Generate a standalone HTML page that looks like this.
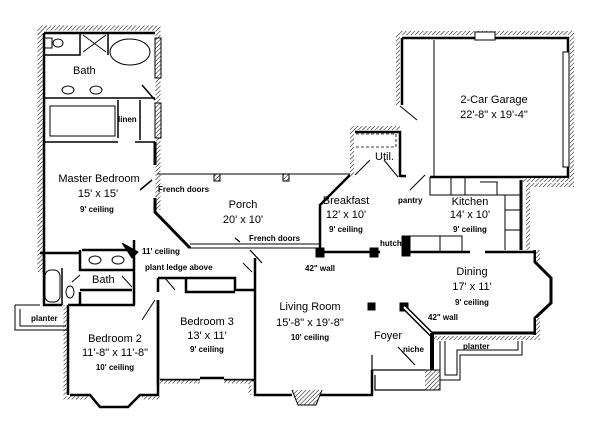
<!DOCTYPE html>
<html><head><meta charset="utf-8"><style>
html,body{margin:0;padding:0;background:#fff;width:600px;height:436px;overflow:hidden}
text{font-family:"Liberation Sans",Arial,sans-serif;fill:#000}
.l{font-size:11px}
.s{font-size:8px;font-weight:bold}
</style></head><body>
<svg width="600" height="436" viewBox="0 0 600 436" xmlns="http://www.w3.org/2000/svg">
<defs><pattern id="h" width="3" height="3" patternUnits="userSpaceOnUse" patternTransform="rotate(45)"><rect width="3" height="3" fill="#fff"/><line x1="0" y1="0" x2="0" y2="3" stroke="#000" stroke-width="1"/></pattern></defs>
<g fill="none" stroke="#000">
<path d="M40 28 H158 V210 M40 28 V272" stroke="url(#h)" stroke-width="5"/>
<path d="M44 33 H155 M44 33 V272" stroke-width="2.5"/>
<path d="M44 55 H80 V50 M80 33 V55 M108 33 V55 M44 98 H155 M44 142 H118 M135 142 H155 M44 95 V142" stroke-width="1.5"/>
<rect x="50" y="106" width="65" height="30" stroke-width="1"/>
<ellipse cx="130" cy="52" rx="20" ry="13" stroke-width="1"/>
<path d="M83 35 L106 52 M106 35 L83 52" stroke-width=".8"/>
<ellipse cx="68" cy="90" rx="6" ry="4"/><ellipse cx="96" cy="90" rx="6" ry="4"/>
<rect x="44" y="38" width="8" height="10"/><ellipse cx="58" cy="43" rx="5" ry="4"/>
<path d="M142 85 L155 100 M140 190 L152 180 M118 100 V138 M140 100 V140" stroke-width="1.5"/>
<rect x="155" y="38" width="6" height="40"/><rect x="155" y="103" width="6" height="35"/>
<path d="M155 142 V165 M155 198 V212 L190 248" stroke-width="3"/>
<path d="M157 174 H350" stroke-width="1"/>
<rect x="214" y="174" width="6" height="7" fill="url(#h)"/><rect x="283" y="174" width="6" height="7" fill="url(#h)"/>
<path d="M190 248 H320 M190 244 H320" stroke-width="1"/>
<path d="M250 250 L262 263 M235 238 L240 242" stroke-width="1.2"/>
<path d="M320 250 V205 L350 175" stroke-width="2.5"/>
<path d="M352 177 V128 H400 M352 128 V150" stroke="url(#h)" stroke-width="4"/>
<path d="M355 132 H400 V177 M400 176 H406" stroke-width="2.5"/>
<path d="M356 134 H396 V147 H356" stroke-width=".8" stroke-dasharray="3,2"/>
<path d="M384 160 L398 177 M370 160 L355 175" stroke-width="1"/>
<path d="M398 33 H572 V180 M398 33 V105" stroke="url(#h)" stroke-width="4"/>
<path d="M402 38 H568 V177 H430 M402 38 V105" stroke-width="2.5"/>
<rect x="475" y="32" width="20" height="8" fill="#fff"/>
<rect x="563" y="52" width="6" height="115" fill="#fff" stroke-width="1"/>
<path d="M434 40 V177 M400 106 L417 120" stroke-width="1"/>
<path d="M523 180 H572 V185 H528 V250" stroke="url(#h)" stroke-width="4"/>
<path d="M521 180 V250" stroke-width="3"/>
<path d="M430 177 V195 H520 M451 177 V195 M465 177 V195 M480 182 H497 V195" stroke-width="1"/>
<path d="M505 195 V250 M505 210 H520 M505 230 H520" stroke-width="1"/>
<path d="M425 175 L410 190" stroke-width="1"/>
<path d="M320 252 H380 M405 252 H470 M485 252 H535" stroke-width="2.5"/>
<rect x="316" y="248" width="8" height="9" fill="#000"/><rect x="370" y="248" width="8" height="9" fill="#000"/><rect x="402" y="236" width="8" height="20" fill="#000"/>
<path d="M410 236 H440 V252 M440 236 H462 V252" stroke-width="1"/>
<path d="M535 250 V262 L551 278 V303 L535 318 V335" stroke-width="3"/>
<path d="M538 250 V262 M538 318 V338 H432" stroke="url(#h)" stroke-width="4"/>
<path d="M430 333 H535" stroke-width="3"/>
<path d="M440 341 V380 H460 V355 H522 V341 M445 341 V375 H457 V350 H518 V341" stroke-width="1"/>
<rect x="368" y="303" width="7" height="7" fill="#000"/>
<rect x="400" y="303" width="8" height="8" fill="#000"/>
<path d="M404 307 L432 335" stroke-width="5"/><path d="M404 307 L432 335" stroke="#fff" stroke-width="2"/>
<path d="M432 333 V390" stroke-width="4"/>
<path d="M425 370 H440 V390 H425" fill="url(#h)" stroke-width="1"/>
<path d="M372 355 V375 M372 370 H425 M375 375 V390 H425 M398 347 L415 365" stroke-width="1.2"/>
<path d="M255 258 V395 H292 M320 395 H372 V370" stroke-width="2.5"/>
<path d="M292 390 L298 405 H316 L322 390" fill="url(#h)" stroke-width="1"/>
<!-- bedroom 3 -->
<path d="M158 300 V385 M158 278 V292 M158 278 H186 M186 278 H235 V290 H255 M186 278 V292 H235" stroke-width="2.5"/>
<path d="M160 380 H200 M224 380 H255 M200 378 H224" stroke-width="2.5"/>
<path d="M158 382 H200 M224 382 H250 V395" stroke="url(#h)" stroke-width="3"/>
<path d="M165 278 L175 290 M243 263 L252 272" stroke-width="1"/>
<!-- bath 2 -->
<path d="M40 253 H80 M80 250 V270 H135 M82 250 H135 M134 240 V305 M68 305 H135 M80 290 H132 M80 292 V305" stroke-width="2.5"/>
<path d="M62 268 V305" stroke-width="1.5"/>
<path d="M44 255 V305 H62" stroke-width="2.5"/>
<path d="M122 243 L138 252 L132 258 Z" fill="#000"/>
<ellipse cx="95" cy="260" rx="6" ry="4"/><ellipse cx="118" cy="260" rx="6" ry="4"/>
<rect x="45" y="270" width="15" height="32" rx="6"/>
<ellipse cx="70" cy="292" rx="4" ry="6"/>
<path d="M155 300 L142 320 M72 282 L80 275 M122 276 L132 287" stroke-width="1"/>
<!-- bedroom 2 -->
<path d="M68 305 V395 M70 395 H90 L100 407 H128 L140 395 H158 V300" stroke-width="2.5"/>
<path d="M65 305 V398 H88 M142 398 H160" stroke="url(#h)" stroke-width="3"/>
<path d="M15 305 V330 H68 M20 309 V326 H66 M15 305 H40" stroke-width="1"/>
</g>
<g>
<text class="l" x="73" y="74">Bath</text>
<text class="s" x="118" y="122">linen</text>
<text class="l" x="99" y="182" text-anchor="middle">Master Bedroom</text>
<text class="l" x="98" y="197" text-anchor="middle">15' x 15'</text>
<text class="s" x="97" y="212" text-anchor="middle">9' ceiling</text>
<text class="s" x="158" y="192">French doors</text>
<text class="l" x="243" y="208" text-anchor="middle">Porch</text>
<text class="l" x="243" y="223" text-anchor="middle">20' x 10'</text>
<text class="s" x="249" y="241">French doors</text>
<text class="l" x="494" y="103" text-anchor="middle">2-Car Garage</text>
<text class="l" x="494" y="118" text-anchor="middle">22'-8" x 19'-4"</text>
<text class="l" x="375" y="160">Util.</text>
<text class="l" x="346" y="204" text-anchor="middle">Breakfast</text>
<text class="l" x="346" y="218" text-anchor="middle">12' x 10'</text>
<text class="s" x="346" y="232" text-anchor="middle">9' ceiling</text>
<text class="s" x="398" y="203">pantry</text>
<text class="l" x="470" y="205" text-anchor="middle">Kitchen</text>
<text class="l" x="470" y="218" text-anchor="middle">14' x 10'</text>
<text class="s" x="470" y="232" text-anchor="middle">9' ceiling</text>
<text class="s" x="380" y="246">hutch</text>
<text class="s" x="305" y="271">42" wall</text>
<text class="l" x="472" y="275" text-anchor="middle">Dining</text>
<text class="l" x="472" y="290" text-anchor="middle">17' x 11'</text>
<text class="s" x="472" y="305" text-anchor="middle">9' ceiling</text>
<text class="s" x="428" y="320">42" wall</text>
<text class="l" x="310" y="310" text-anchor="middle">Living Room</text>
<text class="l" x="310" y="326" text-anchor="middle">15'-8" x 19'-8"</text>
<text class="s" x="310" y="340" text-anchor="middle">10' ceiling</text>
<text class="l" x="388" y="339" text-anchor="middle">Foyer</text>
<text class="s" x="403" y="352">niche</text>
<text class="s" x="463" y="349">planter</text>
<text class="s" x="142" y="254">11' ceiling</text>
<text class="s" x="145" y="270">plant ledge above</text>
<text class="l" x="92" y="283">Bath</text>
<text class="s" x="31" y="321">planter</text>
<text class="l" x="115" y="342" text-anchor="middle">Bedroom 2</text>
<text class="l" x="115" y="356" text-anchor="middle">11'-8" x 11'-8"</text>
<text class="s" x="115" y="370" text-anchor="middle">10' ceiling</text>
<text class="l" x="207" y="325" text-anchor="middle">Bedroom 3</text>
<text class="l" x="207" y="339" text-anchor="middle">13' x 11'</text>
<text class="s" x="207" y="352" text-anchor="middle">9' ceiling</text>
</g>
</svg>
</body></html>
